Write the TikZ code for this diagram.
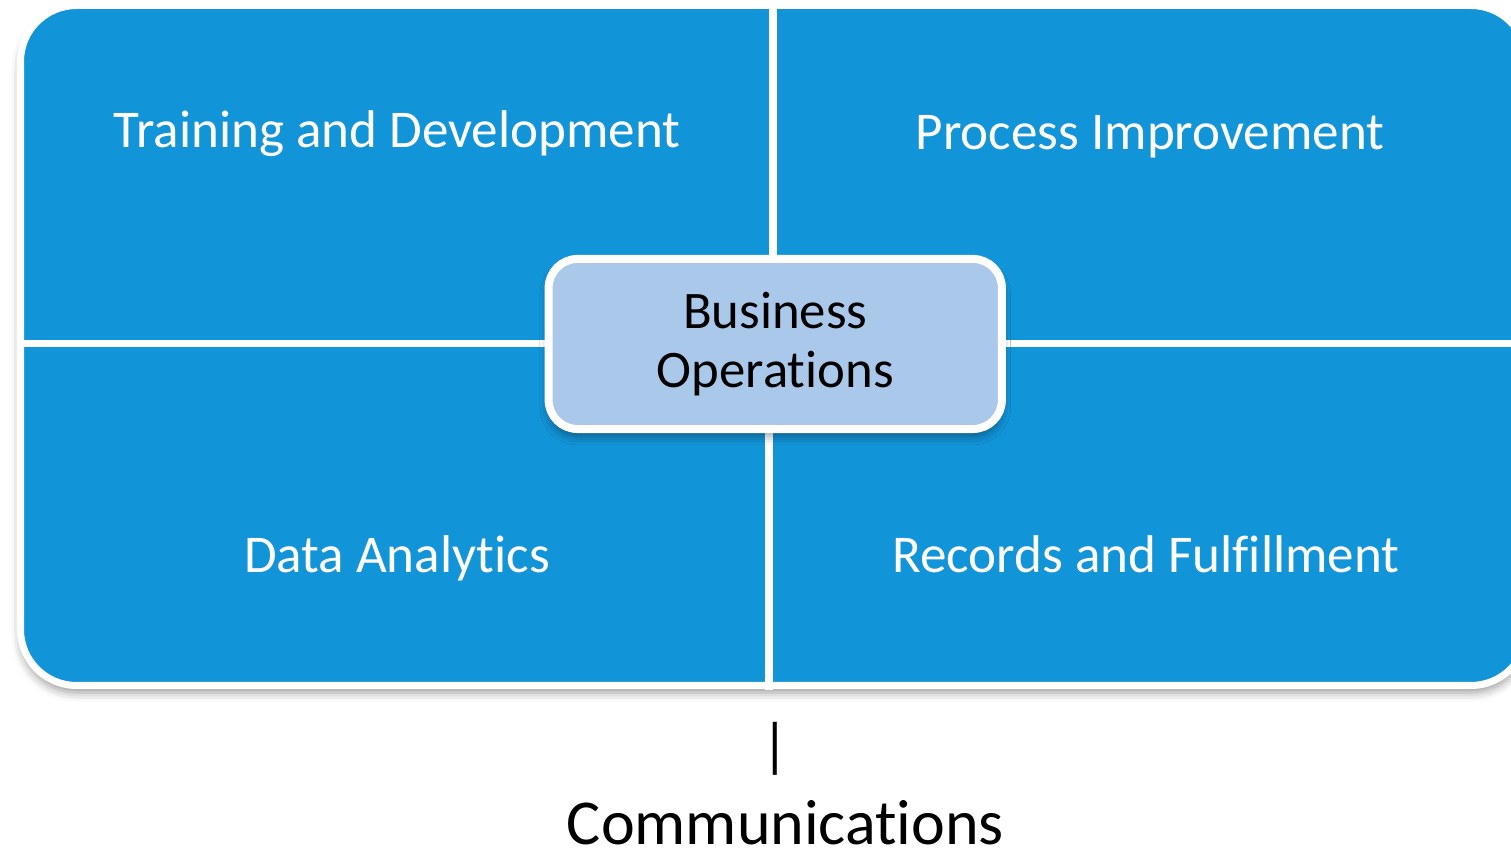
\documentclass[tikz,border=0pt]{standalone}
\usepackage{fontspec}
\setmainfont{Carlito}[Ligatures=NoCommon]
\usepackage{tikz}
\usetikzlibrary{shadows.blur}

\definecolor{tileblue}{RGB}{18,148,216}
\definecolor{hubblue}{RGB}{170,200,234}

% keeps two letters apart (no ligature)
\newcommand{\nolig}{\kern0pt{}}

\begin{document}
\begin{tikzpicture}
      [x=0.01cm,y=-0.01cm,line cap=round,line join=round,
     %the four tiles share one frame, split by white gaps
     tile/.style={fill=tileblue,draw=white,line width=0.07cm},
     gap/.style={draw=white,line width=0.08cm,line cap=butt},
     tilelabel/.style={text=white,anchor=base,font=\fontsize{15.1}{18}\selectfont},
     softshadow/.style={blur shadow={shadow xshift=0pt,shadow yshift=-2pt,
        shadow blur radius=2.5pt,shadow opacity=40}},
     hub/.style={fill=hubblue,draw=white,line width=0.08cm,rounded corners=0.29cm,
        minimum width=4.53cm,minimum height=1.70cm,align=center,
        font=\fontsize{15}{16.8}\selectfont}]

\useasboundingbox (0,0) rectangle (1511,849);

%frame of the matrix
  \draw[tile,softshadow,rounded corners=0.56cm] (20.5,5.5) rectangle (1527,685.5);

%white gaps between the tiles
  \draw[gap] (772.5,1) -- (772.5,343.5);
  \draw[gap] (768.5,343.5) -- (768.5,690);
  \draw[gap,line width=0.07cm] (17,343.5) -- (1511,343.5);

%tile texts
  \node[tilelabel] (training) at (397,148) {Training and Development};
  \node[tilelabel] (process) at (1150,150) {Process Improvement};
  \node[tilelabel] (analytics) at (397,573) {Data Analyt\nolig ics};
  \node[tilelabel] (records) at (1146,573) {Records and Fulf\nolig illment};

%centre box
  \node[hub,softshadow] (hub) at (775.25,344) {Business\\Operat\nolig ions};

%below the matrix
  \node[anchor=base,inner sep=0pt,font=\fontsize{17}{20}\selectfont] (bar) at (775,766) {|};
  \node[anchor=base,inner sep=0pt,font=\fontsize{18.2}{22}\selectfont] (comms) at (785.5,845) {Communicat\nolig ions};
\end{tikzpicture}
\end{document}
